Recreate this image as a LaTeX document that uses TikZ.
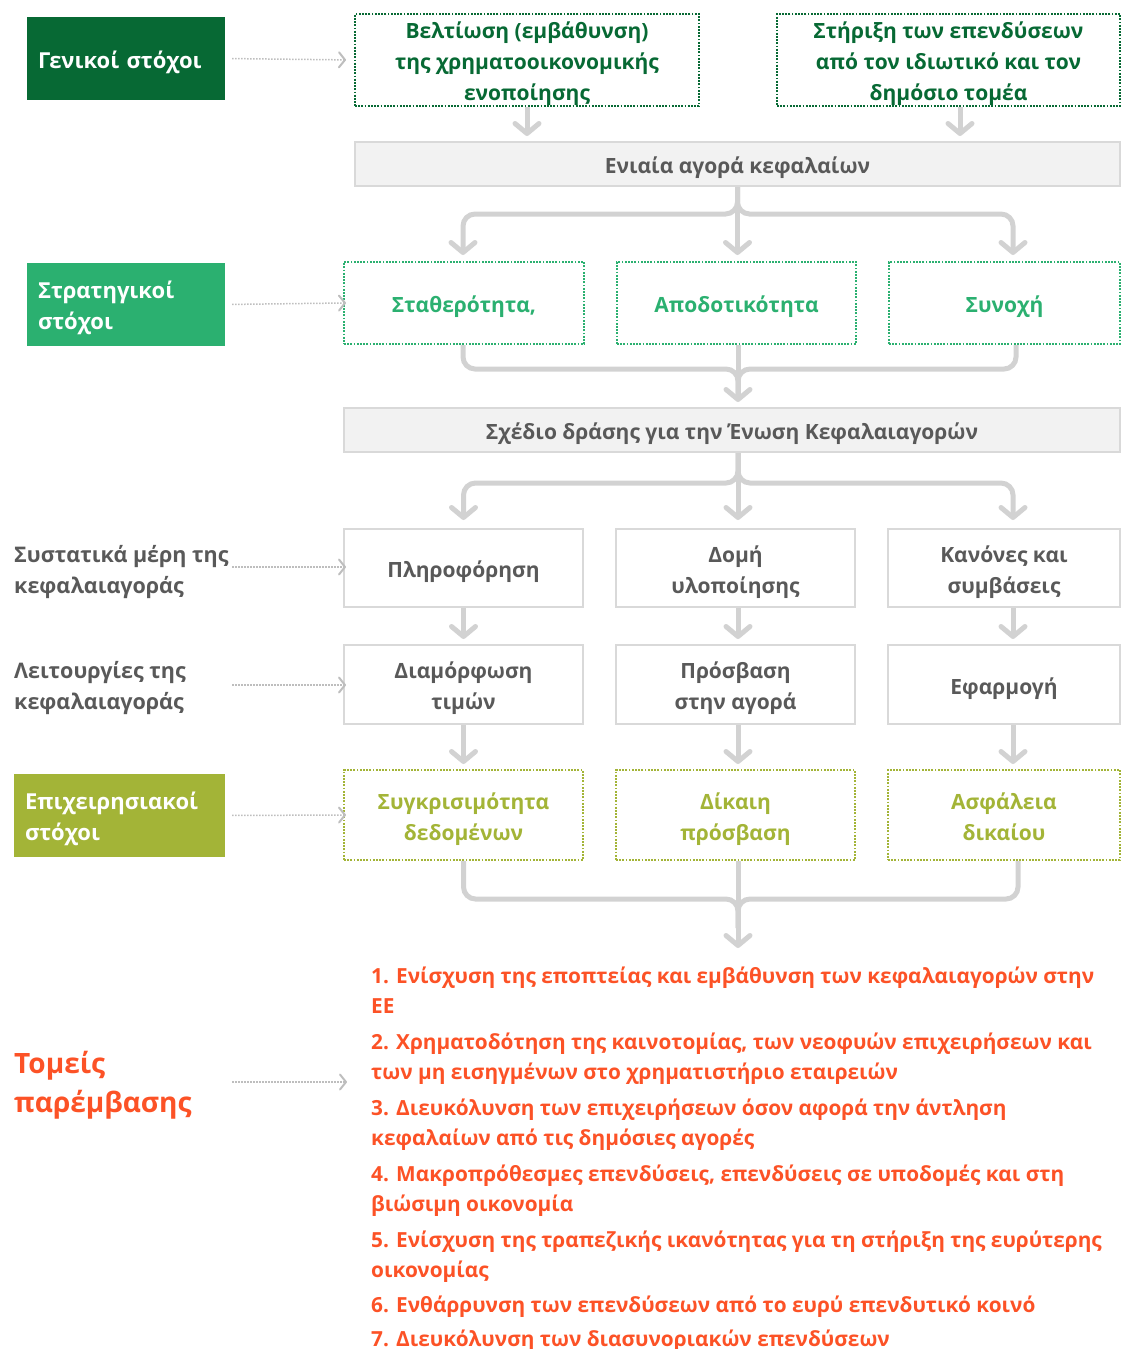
\documentclass[tikz,border=0pt]{standalone}
\usepackage{fontspec}
\setmainfont{Open Sans}
\usetikzlibrary{arrows.meta,calc}
\definecolor{dkgreen}{RGB}{7,105,52}
\definecolor{midgreen}{RGB}{43,176,112}
\definecolor{olivegr}{RGB}{163,180,55}
\definecolor{orng}{RGB}{252,82,38}
\definecolor{txtgray}{RGB}{89,89,89}
\definecolor{lgray}{RGB}{217,217,217}
\definecolor{cgray}{RGB}{210,210,210}
\definecolor{dgray}{RGB}{190,190,190}
\definecolor{boxfill}{RGB}{242,242,242}
\newcommand\tstr{\rule{0pt}{22pt}}
\newcommand\bstr{\rule[-8pt]{0pt}{0pt}}
\newcommand\tbx{\rule{0pt}{27pt}}
\newcommand\tthree{\rule{0pt}{25pt}}
\newcommand\bthree{\rule[-5pt]{0pt}{0pt}}
\tikzset{
  lblbox/.style={fill=#1, text=white, font=\bfseries\fontsize{22}{31}\selectfont,
    align=left, inner xsep=11pt, inner ysep=0pt, minimum height=83pt},
  lbltext/.style={text=txtgray, font=\bfseries\fontsize{21.5}{31}\selectfont,
    align=left, inner sep=0pt, anchor=west},
  dotbox/.style={draw=#1, text=#1, line width=2pt, dash pattern=on 1.8pt off 1.4pt,
    font=\bfseries\fontsize{21}{31}\selectfont, align=center, inner sep=0pt},
  graybox/.style={draw=lgray, fill=boxfill, line width=2pt, text=txtgray,
    font=\bfseries\fontsize{21}{31}\selectfont, align=center, inner sep=0pt},
  whitebox/.style={draw=lgray, line width=2pt, text=txtgray,
    font=\bfseries\fontsize{21}{31}\selectfont, align=center, inner sep=0pt},
  conn/.style={draw=cgray, line width=5pt, rounded corners=12pt},
  connarr/.style={conn, -{Straight Barb[length=10pt,width=24pt,round]}},
  dotarr/.style={draw=dgray, line width=1.5pt, dash pattern=on 1.5pt off 1.5pt,
    -{Straight Barb[length=6pt,width=15pt,round,line width=2pt]}},
}
\begin{document}
\begin{tikzpicture}[x=1pt,y=-1pt]
\useasboundingbox (0,0) rectangle (1121,1349);

% left labels
\node[lblbox=dkgreen, text width=176pt, minimum width=198pt] (gen) at (126,58.5) {\tbx Γενικοί στόχοι\bstr};
\node[lblbox=midgreen, text width=176pt, minimum width=198pt] (strat) at (126,304.5) {\tbx Στρατηγικοί\\στόχοι\bstr};
\node[lbltext] (syst) at (14,570.5) {\tstr Συστατικά μέρη της\\κεφαλαιαγοράς\bstr};
\node[lbltext] (leit) at (14,686.5) {\tstr Λειτουργίες της\\κεφαλαιαγοράς\bstr};
\node[lblbox=olivegr, text width=189pt, minimum width=211pt] (epix) at (119.5,815.5) {\tbx Επιχειρησιακοί\\στόχοι\bstr};
\node[lbltext, text=orng, font=\bfseries\fontsize{28}{39}\selectfont] (tom) at (14,1083.5) {\rule{0pt}{28pt}Τομείς\\παρέμβασης\rule[-10pt]{0pt}{0pt}};

% top boxes
\node[dotbox=dkgreen, minimum width=344pt, minimum height=92pt] (A) at (527,60) {\tthree Βελτίωση (εμβάθυνση)\\της χρηματοοικονομικής\\ενοποίησης\bthree};
\node[dotbox=dkgreen, minimum width=343pt, minimum height=92pt] (B) at (948.5,60) {\tthree Στήριξη των επενδύσεων\\από τον ιδιωτικό και τον\\δημόσιο τομέα\bthree};
\node[graybox, minimum width=765pt, minimum height=44pt] (E) at (737.5,164) {\tbx Ενιαία αγορά κεφαλαίων\bstr};

% strategic
\node[dotbox=midgreen, minimum width=240pt, minimum height=82pt] (S1) at (464,303) {\tbx Σταθερότητα,\bstr};
\node[dotbox=midgreen, minimum width=239pt, minimum height=82pt] (S2) at (736.5,303) {\tbx Αποδοτικότητα\bstr};
\node[dotbox=midgreen, minimum width=231pt, minimum height=82pt] (S3) at (1004.5,303) {\tbx Συνοχή\bstr};

\node[graybox, minimum width=776pt, minimum height=44pt] (P) at (732,430) {\tbx Σχέδιο δράσης για την Ένωση Κεφαλαιαγορών\bstr};

% components
\node[whitebox, minimum width=239pt, minimum height=78pt] (R1) at (463.5,568) {\tbx Πληροφόρηση\bstr};
\node[whitebox, minimum width=239pt, minimum height=78pt] (R2) at (735.5,568) {\tbx Δομή\\υλοποίησης\bstr};
\node[whitebox, minimum width=232pt, minimum height=78pt] (R3) at (1004,568) {\tbx Κανόνες και\\συμβάσεις\bstr};

\node[whitebox, minimum width=239pt, minimum height=79pt] (F1) at (463.5,684.5) {\tbx Διαμόρφωση\\τιμών\bstr};
\node[whitebox, minimum width=239pt, minimum height=79pt] (F2) at (735.5,684.5) {\tbx Πρόσβαση\\στην αγορά\bstr};
\node[whitebox, minimum width=232pt, minimum height=79pt] (F3) at (1004,684.5) {\tbx Εφαρμογή\bstr};

\node[dotbox=olivegr, minimum width=239pt, minimum height=90pt] (O1) at (463.5,815) {\tbx Συγκρισιμότητα\\δεδομένων\bstr};
\node[dotbox=olivegr, minimum width=239pt, minimum height=90pt] (O2) at (735.5,815) {\tbx Δίκαιη\\πρόσβαση\bstr};
\node[dotbox=olivegr, minimum width=232pt, minimum height=90pt] (O3) at (1004,815) {\tbx Ασφάλεια\\δικαίου\bstr};

% list
\node[anchor=north west, inner sep=0pt, align=left, text=orng,
  font=\bfseries\fontsize{20.8}{30}\selectfont] (list) at (371,966.5)
{1. Ενίσχυση της εποπτείας και εμβάθυνση των κεφαλαιαγορών στην\\ΕΕ\\[6pt]
2. Χρηματοδότηση της καινοτομίας, των νεοφυών επιχειρήσεων και\\των μη εισηγμένων στο χρηματιστήριο εταιρειών\\[6pt]
3. Διευκόλυνση των επιχειρήσεων όσον αφορά την άντληση\\κεφαλαίων από τις δημόσιες αγορές\\[6pt]
4. Μακροπρόθεσμες επενδύσεις, επενδύσεις σε υποδομές και στη\\βιώσιμη οικονομία\\[6pt]
5. Ενίσχυση της τραπεζικής ικανότητας για τη στήριξη της ευρύτερης\\οικονομίας\\[5pt]
6. Ενθάρρυνση των επενδύσεων από το ευρύ επενδυτικό κοινό\\[4pt]
7. Διευκόλυνση των διασυνοριακών επενδύσεων};

\coordinate (listin) at (347,1082);
\coordinate (mrg) at (738,948);
\coordinate (Bs) at ($(B.south)+(11.5,0)$);
\coordinate (systout) at (232,567);
\coordinate (leitout) at (232,685);
\coordinate (tomout) at (232,1082);

% dotted arrows from labels
\draw[dotarr, shorten <=7pt, shorten >=8pt] (gen.east) -- (A.west);
\draw[dotarr, shorten <=7pt, shorten >=-3pt] (strat.east) -- (S1.west);
\draw[dotarr, shorten >=-3pt] (systout) -- (systout -| R1.west);
\draw[dotarr, shorten >=-3pt] (leitout) -- (leitout -| F1.west);
\draw[dotarr, shorten <=7pt, shorten >=-3pt] (epix.east) -- (O1.west);
\draw[dotarr] (tomout) -- (listin);

% top arrows
\draw[connarr, shorten >=5pt] (A.south) -- (A.south |- E.north);
\draw[connarr, shorten >=5pt] (Bs) -- (Bs |- E.north);

% branch E -> S
\draw[connarr, shorten >=6pt] (E.south) -- ++(0,27) -| ($(S1.north)+(-1,0)$);
\draw[connarr, shorten >=6pt] (E.south) -- ++(0,27) -| ($(S3.north)+(8.5,0)$);
\draw[connarr, shorten >=6pt] (E.south) -- (E.south |- S2.north);

% merge S -> P
\draw[conn] ($(S1.south)+(-1,0)$) -- ++(0,24) -| ($(P.north)+(6,-8)$);
\draw[conn] ($(S3.south)+(11.5,0)$) -- ++(0,24) -| ($(P.north)+(6,-8)$);
\draw[connarr, shorten >=5pt] ($(S2.south)+(1.5,0)$) -- ($(P.north)+(6,0)$);

% branch P -> R
\draw[connarr, shorten >=8pt] ($(P.south)+(6,0)$) -- ++(0,30) -| (R1.north);
\draw[connarr, shorten >=8pt] ($(P.south)+(6,0)$) -- ++(0,30) -| ($(R3.north)+(9,0)$);
\draw[connarr, shorten >=8pt] ($(P.south)+(6,0)$) -- ($(R2.north)+(2.5,0)$);

% R -> F
\draw[connarr, shorten >=5pt] (R1.south) -- (F1.north);
\draw[connarr, shorten >=5pt] ($(R2.south)+(2.5,0)$) -- ($(F2.north)+(2.5,0)$);
\draw[connarr, shorten >=5pt] ($(R3.south)+(9,0)$) -- ($(F3.north)+(9,0)$);

% F -> O
\draw[connarr, shorten >=5pt] (F1.south) -- (O1.north);
\draw[connarr, shorten >=5pt] ($(F2.south)+(2.5,0)$) -- ($(O2.north)+(2.5,0)$);
\draw[connarr, shorten >=5pt] ($(F3.south)+(9,0)$) -- ($(O3.north)+(9,0)$);

% merge O -> list
\draw[conn] (O1.south) -- ++(0,38) -| ($(mrg)+(0,-20)$);
\draw[conn] ($(O3.south)+(14,0)$) -- ++(0,38) -| ($(mrg)+(0,-20)$);
\draw[connarr] ($(O2.south)+(2.5,0)$) -- (mrg);
\end{tikzpicture}
\end{document}
